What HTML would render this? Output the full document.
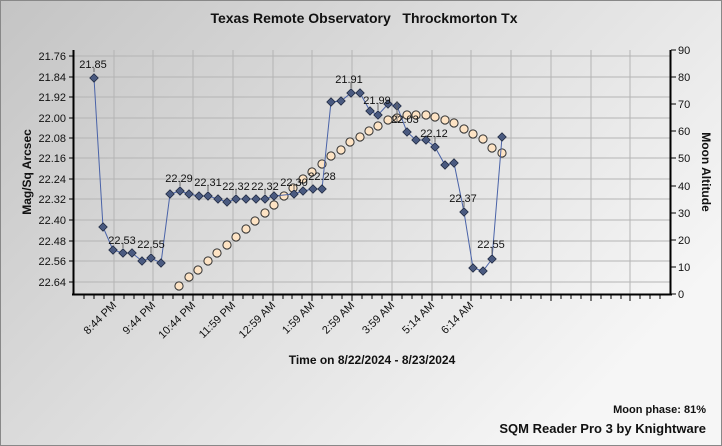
<!DOCTYPE html>
<html><head><meta charset="utf-8"><style>
html,body{margin:0;padding:0;width:722px;height:446px;overflow:hidden}
svg{display:block;font-family:"Liberation Sans",Arial,sans-serif}
</style></head><body>
<svg width="722" height="446" viewBox="0 0 722 446" xmlns="http://www.w3.org/2000/svg">
<defs>
<linearGradient id="bg" x1="0" y1="0" x2="1" y2="0.6">
<stop offset="0" stop-color="#c4c4c4"/><stop offset="0.6" stop-color="#e2e2e2"/><stop offset="1" stop-color="#f6f6f6"/>
</linearGradient>
<path id="d" d="M0,-4.2 L4.2,0 L0,4.2 L-4.2,0Z" fill="#4a5a80" stroke="#222c44" stroke-width="0.8"/>
<circle id="c" r="4.1" fill="#fde3c4" stroke="#333" stroke-width="1"/>
</defs>
<rect x="0" y="0" width="722" height="446" fill="url(#bg)"/>
<rect x="0.5" y="0.5" width="721" height="445" fill="none" stroke="#888"/>
<text x="364" y="23" font-size="14" font-weight="bold" text-anchor="middle" fill="#111">Texas Remote Observatory&#160;&#160;&#160;Throckmorton Tx</text>
<g stroke="#b4b4b4" stroke-width="1">
<line x1="74" y1="56" x2="670" y2="56"/><line x1="74" y1="77" x2="670" y2="77"/><line x1="74" y1="97" x2="670" y2="97"/><line x1="74" y1="118" x2="670" y2="118"/><line x1="74" y1="138" x2="670" y2="138"/><line x1="74" y1="158" x2="670" y2="158"/><line x1="74" y1="179" x2="670" y2="179"/><line x1="74" y1="199" x2="670" y2="199"/><line x1="74" y1="220" x2="670" y2="220"/><line x1="74" y1="241" x2="670" y2="241"/><line x1="74" y1="261" x2="670" y2="261"/><line x1="74" y1="282" x2="670" y2="282"/>
<line x1="114" y1="50" x2="114" y2="294"/><line x1="153" y1="50" x2="153" y2="294"/><line x1="193" y1="50" x2="193" y2="294"/><line x1="233" y1="50" x2="233" y2="294"/><line x1="273" y1="50" x2="273" y2="294"/><line x1="312" y1="50" x2="312" y2="294"/><line x1="352" y1="50" x2="352" y2="294"/><line x1="392" y1="50" x2="392" y2="294"/><line x1="432" y1="50" x2="432" y2="294"/><line x1="471" y1="50" x2="471" y2="294"/><line x1="511" y1="50" x2="511" y2="294"/><line x1="551" y1="50" x2="551" y2="294"/><line x1="591" y1="50" x2="591" y2="294"/><line x1="630" y1="50" x2="630" y2="294"/>
</g>
<g stroke="#000">
<line x1="73.5" y1="50" x2="73.5" y2="295" stroke-width="2"/>
<line x1="670.5" y1="50" x2="670.5" y2="295" stroke-width="2"/>
<line x1="72" y1="294.5" x2="672" y2="294.5" stroke-width="2"/>
<g stroke-width="1">
<line x1="69" y1="56" x2="73" y2="56"/><line x1="69" y1="77" x2="73" y2="77"/><line x1="69" y1="97" x2="73" y2="97"/><line x1="69" y1="118" x2="73" y2="118"/><line x1="69" y1="138" x2="73" y2="138"/><line x1="69" y1="158" x2="73" y2="158"/><line x1="69" y1="179" x2="73" y2="179"/><line x1="69" y1="199" x2="73" y2="199"/><line x1="69" y1="220" x2="73" y2="220"/><line x1="69" y1="241" x2="73" y2="241"/><line x1="69" y1="261" x2="73" y2="261"/><line x1="69" y1="282" x2="73" y2="282"/>
<line x1="671" y1="50" x2="676" y2="50"/><line x1="671" y1="77" x2="676" y2="77"/><line x1="671" y1="104" x2="676" y2="104"/><line x1="671" y1="131" x2="676" y2="131"/><line x1="671" y1="158" x2="676" y2="158"/><line x1="671" y1="186" x2="676" y2="186"/><line x1="671" y1="213" x2="676" y2="213"/><line x1="671" y1="240" x2="676" y2="240"/><line x1="671" y1="267" x2="676" y2="267"/><line x1="671" y1="294" x2="676" y2="294"/>
<line x1="84" y1="295" x2="84" y2="299"/><line x1="94" y1="295" x2="94" y2="299"/><line x1="104" y1="295" x2="104" y2="299"/><line x1="114" y1="295" x2="114" y2="301"/><line x1="124" y1="295" x2="124" y2="299"/><line x1="134" y1="295" x2="134" y2="299"/><line x1="144" y1="295" x2="144" y2="299"/><line x1="153" y1="295" x2="153" y2="301"/><line x1="163" y1="295" x2="163" y2="299"/><line x1="173" y1="295" x2="173" y2="299"/><line x1="183" y1="295" x2="183" y2="299"/><line x1="193" y1="295" x2="193" y2="301"/><line x1="203" y1="295" x2="203" y2="299"/><line x1="213" y1="295" x2="213" y2="299"/><line x1="223" y1="295" x2="223" y2="299"/><line x1="233" y1="295" x2="233" y2="301"/><line x1="243" y1="295" x2="243" y2="299"/><line x1="253" y1="295" x2="253" y2="299"/><line x1="263" y1="295" x2="263" y2="299"/><line x1="273" y1="295" x2="273" y2="301"/><line x1="283" y1="295" x2="283" y2="299"/><line x1="292" y1="295" x2="292" y2="299"/><line x1="302" y1="295" x2="302" y2="299"/><line x1="312" y1="295" x2="312" y2="301"/><line x1="322" y1="295" x2="322" y2="299"/><line x1="332" y1="295" x2="332" y2="299"/><line x1="342" y1="295" x2="342" y2="299"/><line x1="352" y1="295" x2="352" y2="301"/><line x1="362" y1="295" x2="362" y2="299"/><line x1="372" y1="295" x2="372" y2="299"/><line x1="382" y1="295" x2="382" y2="299"/><line x1="392" y1="295" x2="392" y2="301"/><line x1="402" y1="295" x2="402" y2="299"/><line x1="412" y1="295" x2="412" y2="299"/><line x1="422" y1="295" x2="422" y2="299"/><line x1="432" y1="295" x2="432" y2="301"/><line x1="442" y1="295" x2="442" y2="299"/><line x1="452" y1="295" x2="452" y2="299"/><line x1="461" y1="295" x2="461" y2="299"/><line x1="471" y1="295" x2="471" y2="301"/><line x1="481" y1="295" x2="481" y2="299"/><line x1="491" y1="295" x2="491" y2="299"/><line x1="501" y1="295" x2="501" y2="299"/><line x1="511" y1="295" x2="511" y2="301"/><line x1="521" y1="295" x2="521" y2="299"/><line x1="531" y1="295" x2="531" y2="299"/><line x1="541" y1="295" x2="541" y2="299"/><line x1="551" y1="295" x2="551" y2="301"/><line x1="561" y1="295" x2="561" y2="299"/><line x1="571" y1="295" x2="571" y2="299"/><line x1="581" y1="295" x2="581" y2="299"/><line x1="591" y1="295" x2="591" y2="301"/><line x1="601" y1="295" x2="601" y2="299"/><line x1="611" y1="295" x2="611" y2="299"/><line x1="621" y1="295" x2="621" y2="299"/><line x1="630" y1="295" x2="630" y2="301"/><line x1="640" y1="295" x2="640" y2="299"/><line x1="650" y1="295" x2="650" y2="299"/><line x1="660" y1="295" x2="660" y2="299"/>
</g></g>
<g font-size="11" fill="#111" text-anchor="end">
<text x="66" y="60">21.76</text><text x="66" y="81">21.84</text><text x="66" y="101">21.92</text><text x="66" y="122">22.00</text><text x="66" y="142">22.08</text><text x="66" y="162">22.16</text><text x="66" y="183">22.24</text><text x="66" y="203">22.32</text><text x="66" y="224">22.40</text><text x="66" y="245">22.48</text><text x="66" y="265">22.56</text><text x="66" y="286">22.64</text>
</g>
<g font-size="11" fill="#111">
<text x="678" y="54">90</text><text x="678" y="81">80</text><text x="678" y="108">70</text><text x="678" y="135">60</text><text x="678" y="162">50</text><text x="678" y="190">40</text><text x="678" y="217">30</text><text x="678" y="244">20</text><text x="678" y="271">10</text><text x="678" y="298">0</text>
</g>
<text transform="translate(31,172) rotate(-90)" font-size="12" font-weight="bold" text-anchor="middle" fill="#111">Mag/Sq Arcsec</text>
<text transform="translate(702,172) rotate(90)" font-size="12" font-weight="bold" text-anchor="middle" fill="#111">Moon Altitude</text>
<g font-size="11" fill="#111" text-anchor="end">
<text transform="translate(117,306) rotate(-45)">8:44 PM</text>
<text transform="translate(156,306) rotate(-45)">9:44 PM</text>
<text transform="translate(196,306) rotate(-45)">10:44 PM</text>
<text transform="translate(236,306) rotate(-45)">11:59 PM</text>
<text transform="translate(276,306) rotate(-45)">12:59 AM</text>
<text transform="translate(315,306) rotate(-45)">1:59 AM</text>
<text transform="translate(355,306) rotate(-45)">2:59 AM</text>
<text transform="translate(395,306) rotate(-45)">3:59 AM</text>
<text transform="translate(435,306) rotate(-45)">5:14 AM</text>
<text transform="translate(474,306) rotate(-45)">6:14 AM</text>
</g>
<text x="372" y="364" font-size="12" font-weight="bold" text-anchor="middle" fill="#111">Time on 8/22/2024 - 8/23/2024</text>
<text x="706" y="413" font-size="11" font-weight="bold" text-anchor="end" fill="#111">Moon phase: 81%</text>
<text x="706" y="433" font-size="13" font-weight="bold" text-anchor="end" fill="#111">SQM Reader Pro 3 by Knightware</text>
<g>
<use href="#c" x="179" y="286"/><use href="#c" x="189" y="277"/><use href="#c" x="198" y="270"/><use href="#c" x="208" y="261"/><use href="#c" x="217" y="253"/><use href="#c" x="227" y="245"/><use href="#c" x="236" y="237"/><use href="#c" x="246" y="229"/><use href="#c" x="255" y="221"/><use href="#c" x="265" y="213"/><use href="#c" x="274" y="205"/><use href="#c" x="284" y="196"/><use href="#c" x="293" y="188"/><use href="#c" x="303" y="179"/><use href="#c" x="312" y="172"/><use href="#c" x="322" y="164"/><use href="#c" x="331" y="156"/><use href="#c" x="341" y="150"/><use href="#c" x="350" y="142"/><use href="#c" x="360" y="137"/><use href="#c" x="369" y="131"/><use href="#c" x="378" y="126"/><use href="#c" x="388" y="120"/><use href="#c" x="397" y="118"/><use href="#c" x="407" y="115"/><use href="#c" x="416" y="115"/><use href="#c" x="426" y="115"/><use href="#c" x="435" y="117"/><use href="#c" x="445" y="120"/><use href="#c" x="454" y="123"/><use href="#c" x="464" y="129"/><use href="#c" x="473" y="134"/><use href="#c" x="483" y="139"/><use href="#c" x="492" y="148"/><use href="#c" x="502" y="153"/>
</g>
<polyline fill="none" stroke="#4a63a8" stroke-width="1" points="94,78 103,227 113,250 123,253 132,253 142,261 151,258 161,263 170,194 180,191 189,194 199,196 208,196 218,199 227,202 236,199 246,199 256,199 265,199 274,196 284,195 294,194 303,191 313,189 322,189 331,102 341,101 351,93 360,93 370,111 378,115 388,104 397,106 407,132 416,140 426,140 435,147 445,165 454,163 464,212 473,268 483,271 492,259 502,137"/>
<g>
<use href="#d" x="94" y="78"/><use href="#d" x="103" y="227"/><use href="#d" x="113" y="250"/><use href="#d" x="123" y="253"/><use href="#d" x="132" y="253"/><use href="#d" x="142" y="261"/><use href="#d" x="151" y="258"/><use href="#d" x="161" y="263"/><use href="#d" x="170" y="194"/><use href="#d" x="180" y="191"/><use href="#d" x="189" y="194"/><use href="#d" x="199" y="196"/><use href="#d" x="208" y="196"/><use href="#d" x="218" y="199"/><use href="#d" x="227" y="202"/><use href="#d" x="236" y="199"/><use href="#d" x="246" y="199"/><use href="#d" x="256" y="199"/><use href="#d" x="265" y="199"/><use href="#d" x="274" y="196"/><use href="#d" x="294" y="194"/><use href="#d" x="303" y="191"/><use href="#d" x="313" y="189"/><use href="#d" x="322" y="189"/><use href="#d" x="331" y="102"/><use href="#d" x="341" y="101"/><use href="#d" x="351" y="93"/><use href="#d" x="360" y="93"/><use href="#d" x="370" y="111"/><use href="#d" x="378" y="115"/><use href="#d" x="388" y="104"/><use href="#d" x="397" y="106"/><use href="#d" x="407" y="132"/><use href="#d" x="416" y="140"/><use href="#d" x="426" y="140"/><use href="#d" x="435" y="147"/><use href="#d" x="445" y="165"/><use href="#d" x="454" y="163"/><use href="#d" x="464" y="212"/><use href="#d" x="473" y="268"/><use href="#d" x="483" y="271"/><use href="#d" x="492" y="259"/><use href="#d" x="502" y="137"/>
</g>
<g stroke="#666" stroke-width="1">
<line x1="94" y1="72" x2="94" y2="68"/><line x1="123" y1="248" x2="123" y2="243"/><line x1="151" y1="253" x2="151" y2="247"/><line x1="180" y1="186" x2="180" y2="181"/><line x1="208" y1="191" x2="208" y2="185"/><line x1="236" y1="194" x2="236" y2="189"/><line x1="265" y1="194" x2="265" y2="189"/><line x1="294" y1="189" x2="294" y2="185"/><line x1="351" y1="88" x2="351" y2="82"/><line x1="378" y1="110" x2="378" y2="103"/><line x1="397" y1="101" x2="397" y2="122"/><line x1="435" y1="142" x2="435" y2="136"/><line x1="464" y1="207" x2="464" y2="201"/><line x1="492" y1="254" x2="492" y2="247"/>
</g>
<g font-size="11" fill="#111" text-anchor="middle">
<text x="93" y="68">21.85</text><text x="122" y="244">22.53</text><text x="151" y="248">22.55</text><text x="179" y="182">22.29</text><text x="208" y="186">22.31</text><text x="236" y="190">22.32</text><text x="265" y="190">22.32</text><text x="294" y="186">22.30</text><text x="322" y="180">22.28</text><text x="349" y="83">21.91</text><text x="377" y="104">21.99</text><text x="405" y="123">22.03</text><text x="434" y="137">22.12</text><text x="463" y="202">22.37</text><text x="491" y="248">22.55</text>
</g>
</svg>
</body></html>
